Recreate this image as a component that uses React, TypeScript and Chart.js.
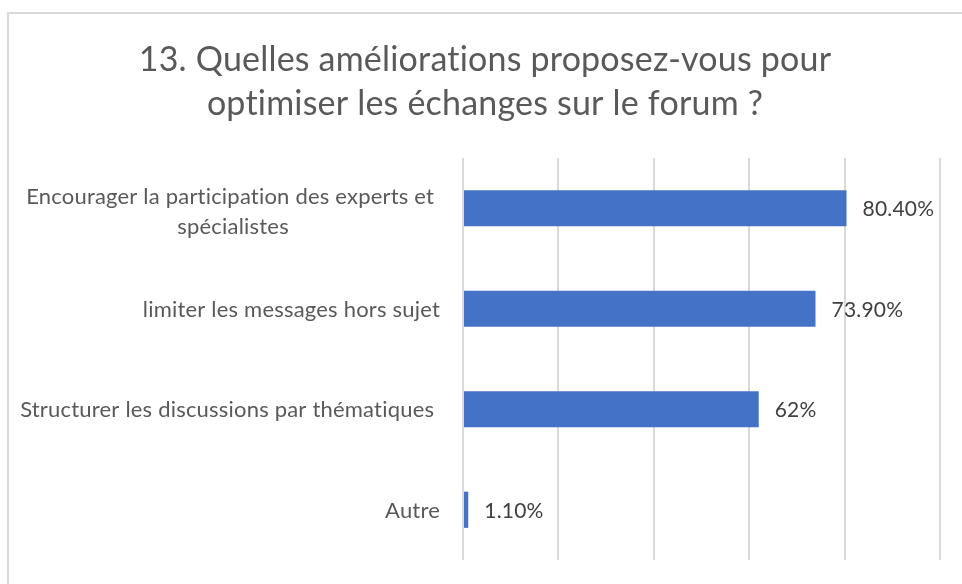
import React, { useEffect, useRef } from "react";
import { Chart, registerables } from "chart.js";

Chart.register(...registerables);

const titleLines = ["13. Quelles améliorations proposez-vous pour", "optimiser les échanges sur le forum ?"];
const categories: string[][] = [
  ["Encourager la participation des experts et ", "spécialistes"],
  ["limiter les messages hors sujet"],
  ["Structurer les discussions par thématiques "],
  ["Autre"],
];
const values = [80.4, 73.9, 62, 1.1];
const valueLabels = ["80.40%", "73.90%", "62%", "1.10%"];
const axisMin = 0;
const axisMax = 100;
const axisStep = 20;

const FONT = "Lato, 'Open Sans', sans-serif";

const labelPlugin = {
  id: "customLabels",
  afterDraw(chart: any) {
    const ctx = chart.ctx;
    const yScale = chart.scales.y;
    const meta = chart.getDatasetMeta(0);
    ctx.save();
    try {
      (ctx as any).letterSpacing = "0.2px";
    } catch (e) {}
    // title
    ctx.fillStyle = "#595959";
    ctx.font = `34px ${FONT}`;
    ctx.textAlign = "center";
    ctx.textBaseline = "alphabetic";
    const cx = 485;
    titleLines.forEach((t, i) => ctx.fillText(t, cx, 71 + i * 44));
    // category labels
    ctx.font = `22px ${FONT}`;
    ctx.textBaseline = "middle";
    const rightEdge = chart.chartArea.left - 23;
    categories.forEach((lines, i) => {
      const y = yScale.getPixelForValue(i);
      const widths = lines.map((l) => ctx.measureText(l).width);
      const maxW = Math.max(...widths);
      const blockLeft = rightEdge - maxW;
      const lh = 30;
      const startY = y - ((lines.length - 1) * lh) / 2 + (lines.length > 1 ? 4 : 1);
      ctx.textAlign = "left";
      lines.forEach((l, j) => {
        const w = ctx.measureText(l.trimEnd()).width;
        const full = ctx.measureText(l).width;
        const x = blockLeft + (maxW - full) / 2;
        ctx.fillText(l.trimEnd(), x + (lines.length > 1 ? (full - w) / 2 * 0 : 0), startY + j * lh);
      });
    });
    // value labels
    ctx.font = `21px ${FONT}`;
    ctx.fillStyle = "#404040";
    ctx.textAlign = "left";
    meta.data.forEach((bar: any, i: number) => {
      ctx.fillText(valueLabels[i], bar.x + 16, bar.y + 1);
    });
    ctx.restore();
  },
};

export default function App() {
  const ref = useRef<HTMLCanvasElement | null>(null);
  useEffect(() => {
    if (!ref.current) return;
    const chart = new Chart(ref.current, {
      type: "bar",
      data: {
        labels: categories.map((c) => c.join(" ").trim()),
        datasets: [
          {
            data: values,
            backgroundColor: "#4472C4",
            borderWidth: 0,
            categoryPercentage: 1,
            barPercentage: 0.36,
          },
        ],
      },
      options: {
        indexAxis: "y",
        animation: false,
        responsive: false,
        maintainAspectRatio: false,
        layout: { padding: { left: 8, top: 158, right: 22, bottom: 24 } },
        plugins: {
          legend: { display: false },
          title: { display: false },
          tooltip: { enabled: false },
        },
        scales: {
          x: {
            min: axisMin,
            max: axisMax,
            ticks: { display: false, stepSize: axisStep },
            grid: { color: "#d9d9d9", lineWidth: 2, drawTicks: false },
            border: { display: false },
          },
          y: {
            ticks: { display: false },
            grid: { display: false },
            border: { display: false },
            afterFit: (scale: any) => {
              scale.width = 455;
            },
          },
        },
      },
      plugins: [labelPlugin],
    });
    return () => chart.destroy();
  }, []);
  return (
    <div
      style={{
        position: "fixed",
        left: 0,
        top: 0,
        width: 962,
        height: 584,
        overflow: "hidden",
        background: "#fff",
      }}
    >
      <div
        style={{
          position: "absolute",
          left: 7,
          top: 12,
          width: 1100,
          height: 1000,
          borderLeft: "2px solid #d9d9d9",
          borderTop: "2px solid #d9d9d9",
        }}
      />
      <canvas
        ref={ref}
        width={962}
        height={584}
        style={{ position: "absolute", left: 0, top: 0, width: 962, height: 584 }}
      />
    </div>
  );
}
